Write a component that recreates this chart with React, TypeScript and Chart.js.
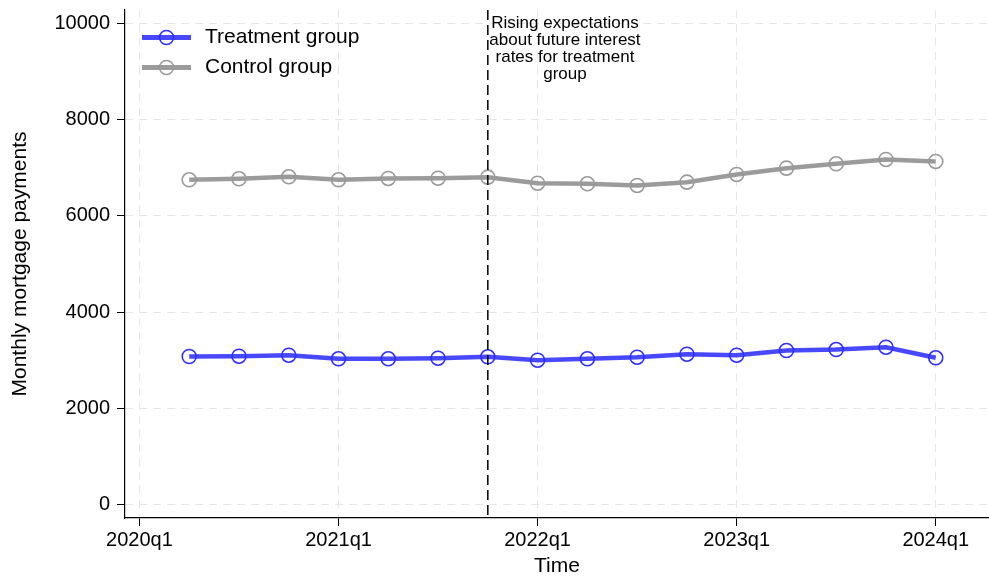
import { useEffect, useRef } from 'react';
import { Chart, registerables } from 'chart.js';

Chart.register(...registerables);

const quarters = ['2020q2', '2020q3', '2020q4', '2021q1', '2021q2', '2021q3', '2021q4', '2022q1', '2022q2', '2022q3', '2022q4', '2023q1', '2023q2', '2023q3', '2023q4', '2024q1'];
const treatment = [3077, 3083, 3104, 3029, 3029, 3042, 3071, 3000, 3029, 3062, 3125, 3104, 3202, 3222, 3270, 3050];
const control = [6751, 6771, 6813, 6751, 6778, 6784, 6805, 6680, 6667, 6632, 6701, 6861, 6992, 7083, 7173, 7131];
const xTickLabels = ['2020q1', '2021q1', '2022q1', '2023q1', '2024q1'];
const yTicks = [0, 2000, 4000, 6000, 8000, 10000];
const eventQuarter = '2021q4';
const annotationLines = ['Rising expectations', 'about future interest', 'rates for treatment', 'group'];
const annotationAnchor = { x: 8.55, y: 10000 };
const seriesNames = ['Treatment group', 'Control group'];

const FONT = "'Liberation Sans', Arial, Helvetica, sans-serif";
const BLUE_LINE = 'rgba(40,40,255,0.85)';
const BLUE_MARK = '#2e2eff';
const GRAY_LINE = '#9b9b9b';
const GRAY_MARK = '#999999';

const qIndex = (q: string) => {
  const year = parseInt(q.slice(0, 4), 10);
  const qq = parseInt(q.slice(5), 10);
  return (year - 2020) * 4 + (qq - 1);
};

const overlayPlugin = {
  id: 'overlay',
  afterDatasetsDraw(chart: any) {
    const { ctx, chartArea, scales } = chart;
    const x = scales.x;
    const y = scales.y;
    // vertical dashed event line
    const vx = x.getPixelForValue(qIndex(eventQuarter));
    ctx.save();
    ctx.strokeStyle = '#000';
    ctx.lineWidth = 1.5;
    ctx.setLineDash([10, 5]);
    ctx.beginPath();
    ctx.moveTo(vx, chartArea.top);
    ctx.lineTo(vx, chartArea.bottom);
    ctx.stroke();
    ctx.restore();

    // annotation text
    ctx.save();
    ctx.fillStyle = '#000';
    ctx.font = `17px ${FONT}`;
    ctx.textAlign = 'center';
    ctx.textBaseline = 'middle';
    const ax = x.getPixelForValue(annotationAnchor.x);
    const ay = y.getPixelForValue(annotationAnchor.y);
    annotationLines.forEach((line, i) => {
      ctx.fillText(line, ax, ay + i * 16.8);
    });
    ctx.restore();

    // legend
    const items = [
      { label: seriesNames[0], line: BLUE_LINE, mark: BLUE_MARK },
      { label: seriesNames[1], line: GRAY_LINE, mark: GRAY_MARK },
    ];
    ctx.save();
    items.forEach((it, i) => {
      const ly = chartArea.top + 27.5 + i * 30;
      const lx0 = chartArea.left + 17;
      const lx1 = chartArea.left + 66;
      ctx.strokeStyle = it.line;
      ctx.lineWidth = 5;
      ctx.beginPath();
      ctx.moveTo(lx0, ly);
      ctx.lineTo(lx1, ly);
      ctx.stroke();
      ctx.fillStyle = '#fff';
      ctx.strokeStyle = it.mark;
      ctx.lineWidth = 1.6;
      ctx.beginPath();
      ctx.arc((lx0 + lx1) / 2, ly, 7, 0, Math.PI * 2);
      ctx.stroke();
      ctx.fillStyle = '#000';
      ctx.font = `21px ${FONT}`;
      ctx.textAlign = 'left';
      ctx.textBaseline = 'middle';
      ctx.fillText(it.label, chartArea.left + 80, ly);
    });
    ctx.restore();
  },
};

export default function App() {
  const canvasRef = useRef<HTMLCanvasElement | null>(null);

  useEffect(() => {
    if (!canvasRef.current) return;
    const xs = quarters.map(qIndex);
    const chart = new Chart(canvasRef.current, {
      type: 'line',
      data: {
        datasets: [
          {
            label: seriesNames[0],
            data: xs.map((v, i) => ({ x: v, y: treatment[i] })),
            borderColor: BLUE_LINE,
            borderWidth: 4.5,
            pointRadius: 7,
            pointBorderWidth: 1.6,
            pointBorderColor: BLUE_MARK,
            pointBackgroundColor: 'rgba(0,0,0,0)',
            tension: 0,
          },
          {
            label: seriesNames[1],
            data: xs.map((v, i) => ({ x: v, y: control[i] })),
            borderColor: GRAY_LINE,
            borderWidth: 4.5,
            pointRadius: 7,
            pointBorderWidth: 1.6,
            pointBorderColor: GRAY_MARK,
            pointBackgroundColor: 'rgba(0,0,0,0)',
            tension: 0,
          },
        ],
      },
      options: {
        responsive: false,
        animation: false,
        layout: { autoPadding: false, padding: { top: 10, right: 0, left: 0, bottom: 0 } },
        plugins: {
          legend: { display: false },
          tooltip: { enabled: false },
        },
        scales: {
          x: {
            type: 'linear',
            min: -0.29,
            max: 17.07,
            afterBuildTicks: (scale: any) => {
              scale.ticks = xTickLabels.map((l) => ({ value: qIndex(l) }));
            },
            afterFit: (scale: any) => {
              scale.height = 61;
              scale.paddingLeft = 0;
              scale.paddingRight = 0;
            },
            ticks: {
              autoSkip: false,
              maxRotation: 0,
              padding: 2,
              color: '#000',
              font: { family: FONT, size: 20 },
              callback: (value: any) => {
                const found = xTickLabels.find((l) => qIndex(l) === value);
                return found ?? '';
              },
            },
            grid: {
              color: '#e6e6e6',
              lineWidth: 1,
              tickColor: '#000',
              tickLength: 8,
              tickWidth: 1,
            },
            border: { display: true, color: '#000', width: 1.2, dash: [8, 6] },
            title: {
              display: true,
              text: 'Time',
              color: '#000',
              font: { family: FONT, size: 21 },
              padding: { top: 0, bottom: 0 },
            },
          },
          y: {
            type: 'linear',
            min: -280,
            max: 10280,
            afterBuildTicks: (scale: any) => {
              scale.ticks = yTicks.map((v) => ({ value: v }));
            },
            afterFit: (scale: any) => {
              scale.width = 125;
              scale.paddingTop = 0;
              scale.paddingBottom = 0;
            },
            ticks: {
              padding: 7,
              color: '#000',
              font: { family: FONT, size: 20 },
              callback: (value: any) => String(value),
            },
            grid: {
              color: '#e6e6e6',
              lineWidth: 1,
              tickColor: '#000',
              tickLength: 8,
              tickWidth: 1,
            },
            border: { display: true, color: '#000', width: 1.2, dash: [8, 6] },
            title: {
              display: true,
              text: 'Monthly mortgage payments',
              color: '#000',
              font: { family: FONT, size: 21 },
              padding: { top: 8, bottom: 0 },
            },
          },
        },
      },
      plugins: [overlayPlugin],
    } as any);
    return () => chart.destroy();
  }, []);

  return (
    <div style={{ position: 'absolute', left: 0, top: 0, width: 989, height: 579, background: '#fff' }}>
      <canvas ref={canvasRef} width={989} height={579} style={{ display: 'block' }} />
    </div>
  );
}
